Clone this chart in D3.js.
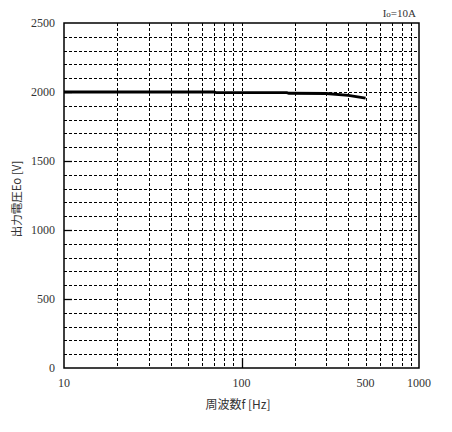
<!DOCTYPE html>
<html><head><meta charset="utf-8">
<script src="https://cdn.jsdelivr.net/npm/d3@7"></script>
<style>body{margin:0;background:#fff}</style>
</head><body>
<script>
const freq = [10, 70, 72, 180, 185, 300, 400, 500];
const volts = [2000, 2000, 1996, 1996, 1991, 1989, 1975, 1955];
const yTicks = [0, 500, 1000, 1500, 2000, 2500];
const xTickLabels = [10, 100, 500, 1000];
const xGrid = [20,30,40,50,60,70,80,90,100,200,300,400,500,600,700,800,900];
const yGrid = d3.range(100, 2500, 100);

const W = 452, H = 432;
const L = 64, R = 419, T = 23, B = 368;
const svg = d3.select("body").append("svg").attr("width", W).attr("height", H);
const x = d3.scaleLog().domain([10, 1000]).range([L, R]);
const y = d3.scaleLinear().domain([0, 2500]).range([B, T]);
const serif = "'Liberation Serif','DejaVu Serif',serif";
const jp = "'Noto Sans CJK JP',sans-serif";

// grid
svg.append("g").selectAll("line").data(yGrid).join("line")
  .attr("x1", L).attr("x2", R).attr("y1", d => Math.round(y(d)) + 0.5).attr("y2", d => Math.round(y(d)) + 0.5)
  .attr("stroke", "#000").attr("stroke-width", 1).attr("stroke-dasharray", "3,2");
svg.append("g").selectAll("line").data(xGrid).join("line")
  .attr("y1", T).attr("y2", B).attr("x1", d => Math.round(x(d)) + 0.5).attr("x2", d => Math.round(x(d)) + 0.5)
  .attr("stroke", "#000").attr("stroke-width", 1).attr("stroke-dasharray", "3,2");
// inner ticks at majors
svg.append("g").selectAll("line").data(yTicks.slice(1, -1)).join("line")
  .attr("x1", L).attr("x2", L + 8).attr("y1", d => Math.round(y(d)) + 0.5).attr("y2", d => Math.round(y(d)) + 0.5)
  .attr("stroke", "#000").attr("stroke-width", 1.3);
svg.append("line").attr("x1", Math.round(x(100)) + 0.5).attr("x2", Math.round(x(100)) + 0.5)
  .attr("y1", B).attr("y2", B - 10).attr("stroke", "#000").attr("stroke-width", 1.3);

// frame
svg.append("rect").attr("x", L).attr("y", T).attr("width", R - L).attr("height", B - T)
  .attr("fill", "none").attr("stroke", "#000").attr("stroke-width", 1.5);

// y tick labels
svg.append("g").selectAll("text").data(yTicks).join("text")
  .attr("x", 55).attr("y", d => y(d) + 4).attr("text-anchor", "end")
  .attr("font-family", serif).attr("font-size", 12).attr("fill", "#333").text(d => d);
// x tick labels
svg.append("g").selectAll("text").data(xTickLabels).join("text")
  .attr("x", d => x(d)).attr("y", 387).attr("text-anchor", "middle")
  .attr("font-family", serif).attr("font-size", 12).attr("fill", "#333").text(d => d);

// data line
svg.append("path").datum(freq.map((f, i) => [f, volts[i]]))
  .attr("d", d3.line().x(d => x(d[0])).y(d => y(d[1])))
  .attr("fill", "none").attr("stroke", "#000").attr("stroke-width", 2.8);

// labels
svg.append("text").attr("x", 238).attr("y", 409).attr("text-anchor", "middle")
  .attr("font-family", jp).attr("font-size", 12).attr("fill", "#333").text("周波数f [Hz]");
svg.append("text").attr("transform", "translate(21,199) rotate(-90)").attr("text-anchor", "middle")
  .attr("font-family", jp).attr("font-size", 11.5).attr("fill", "#333").text("出力電圧Eo [V]");
const t = svg.append("text").attr("x", 416).attr("y", 17).attr("text-anchor", "end")
  .attr("font-family", serif).attr("font-size", 11).attr("fill", "#333");
t.append("tspan").text("I");
t.append("tspan").attr("font-size", 9).text("o");
t.append("tspan").text("=10A");
</script>
</body></html>
